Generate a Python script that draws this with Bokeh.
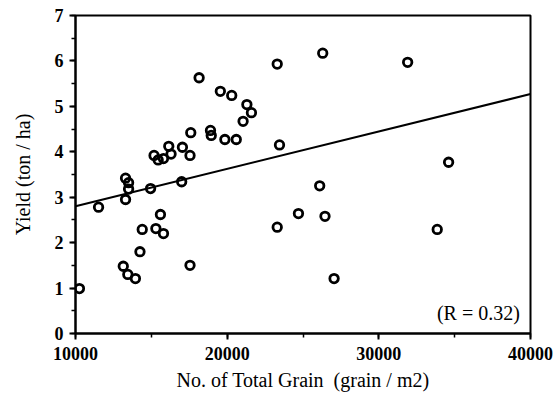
from bokeh.plotting import figure
from bokeh.models import Range1d, SingleIntervalTicker, Label
from bokeh.embed import file_html
from bokeh.resources import INLINE

grain = [10260, 11520, 13300, 13500, 13500, 13300, 14950, 17000, 15180, 15450,
         15800, 16150, 16300, 17050, 17550, 17600, 18150, 18900, 18950, 19850,
         20600, 19550, 20300, 21300, 21600, 21050, 23300, 23450, 26300, 31900,
         26100, 34600, 23300, 24700, 26450, 27050, 33850, 15600, 14400, 15300,
         15800, 14250, 13150, 13450, 13950, 17550]
yield_t = [0.99, 2.78, 3.42, 3.32, 3.18, 2.95, 3.19, 3.34, 3.92, 3.82,
           3.85, 4.12, 3.95, 4.10, 3.92, 4.42, 5.63, 4.47, 4.36, 4.27,
           4.27, 5.33, 5.24, 5.04, 4.86, 4.67, 5.93, 4.15, 6.17, 5.97,
           3.25, 3.77, 2.34, 2.64, 2.58, 1.21, 2.29, 2.62, 2.29, 2.31,
           2.20, 1.80, 1.48, 1.30, 1.21, 1.50]
fit_x = [10000, 40000]
fit_y = [2.80, 5.27]
r_text = "(R = 0.32)"

FONT = "Liberation Serif"

p = figure(width=559, height=401, output_backend="svg", toolbar_location=None,
           x_range=Range1d(10000, 40000), y_range=Range1d(0, 7),
           min_border_left=75, min_border_right=29, min_border_top=15,
           min_border_bottom=68)
p.background_fill_color = "white"
p.border_fill_color = "white"
p.outline_line_color = "black"
p.outline_line_width = 2
p.grid.visible = False

p.line(fit_x, fit_y, line_color="black", line_width=2)
p.scatter(grain, yield_t, marker="circle", size=8.5, fill_color=None,
          line_color="black", line_width=2.8)

p.xaxis.ticker = SingleIntervalTicker(interval=10000, num_minor_ticks=2)
p.yaxis.ticker = SingleIntervalTicker(interval=1, num_minor_ticks=2)
for ax in (p.xaxis[0], p.yaxis[0]):
    ax.axis_line_width = 2
    ax.axis_line_color = "black"
    ax.major_tick_line_width = 2
    ax.minor_tick_line_width = 1.5
    ax.major_tick_out = 6
    ax.major_tick_in = 0
    ax.minor_tick_out = 4
    ax.minor_tick_in = 0
    ax.major_label_text_font = FONT
    ax.major_label_text_font_style = "bold"
    ax.major_label_text_font_size = "18px"
    ax.major_label_text_color = "black"
    ax.axis_label_text_font = FONT
    ax.axis_label_text_font_style = "normal"
    ax.axis_label_text_font_size = "20px"
    ax.axis_label_text_color = "black"

p.xaxis.axis_label = "No. of Total Grain\u00a0 (grain / m2)"
p.yaxis.axis_label = "Yield (ton / ha)"
p.xaxis.major_label_standoff = 7
p.xaxis.axis_label_standoff = 6
p.yaxis.major_label_standoff = 6
p.yaxis.axis_label_standoff = 18

p.add_layout(Label(x=39300, y=0.2, text=r_text, text_align="right",
                   text_baseline="bottom", text_font=FONT,
                   text_font_size="20px", text_color="black"))

open("out.html", "w").write(file_html(p, INLINE))
